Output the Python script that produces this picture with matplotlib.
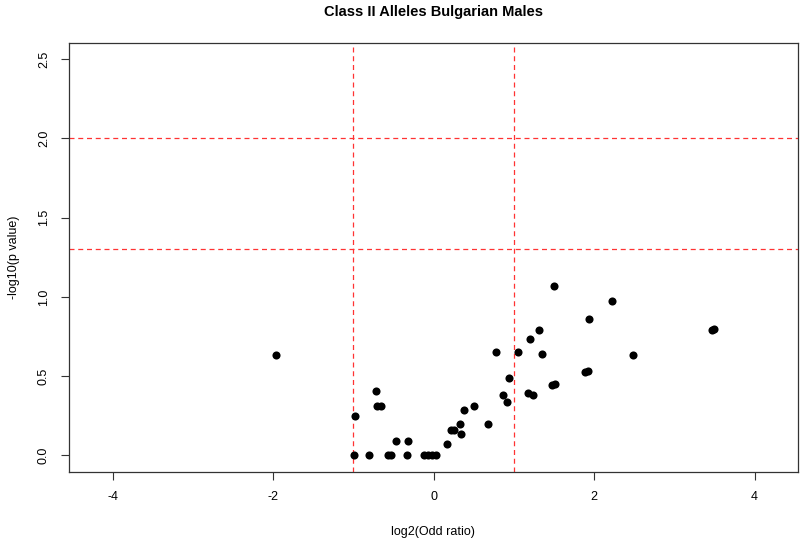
import matplotlib
matplotlib.use("Agg")
import matplotlib.pyplot as plt

log2_or = [-1.96, -0.98, -0.99, -0.81, -0.57, -0.53, -0.33, -0.125, -0.075, -0.02, 0.034,
           -0.714, -0.70, -0.655, -0.47, -0.315,
           0.17, 0.22, 0.25, 0.324, 0.34, 0.374, 0.498, 0.678, 0.865, 0.91, 0.943,
           1.18, 1.24, 1.50, 2.22, 1.94, 1.313, 1.20, 0.778, 1.047, 1.355, 2.48,
           1.89, 1.92, 1.48, 1.51, 3.47, 3.49]
neg_log10_p = [0.634, 0.25, 0.0, 0.0, 0.0, 0.0, 0.0, 0.0, 0.0, 0.0, 0.0,
               0.408, 0.313, 0.313, 0.09, 0.088,
               0.069, 0.162, 0.162, 0.20, 0.135, 0.286, 0.313, 0.195, 0.382, 0.338, 0.491,
               0.393, 0.378, 1.071, 0.973, 0.859, 0.792, 0.733, 0.653, 0.653, 0.639, 0.633,
               0.526, 0.532, 0.444, 0.452, 0.788, 0.797]

hlines = [2.0, 1.30103]
vlines = [-1, 1]
xticks = [-4, -2, 0, 2, 4]
yticks = [0.0, 0.5, 1.0, 1.5, 2.0, 2.5]

plt.rcParams['font.family'] = ['Liberation Sans', 'DejaVu Sans']

W, H = 800, 542
fig = plt.figure(figsize=(W / 100, H / 100), dpi=100)
left, right, top, bottom = 69.3, 798, 43.3, 471.8
ax = fig.add_axes([left / W, (H - bottom) / H, (right - left) / W, (bottom - top) / H])

ax.scatter(log2_or, neg_log10_p, s=34, color='black', zorder=3, linewidths=0)
for h in hlines:
    ax.axhline(h, color='#ff3333', linestyle=(0, (4, 3)), linewidth=0.9)
for v in vlines:
    ax.axvline(v, color='#ff3333', linestyle=(0, (4, 3)), linewidth=0.9)

ax.set_xlim(-4.54, 4.54)
ax.set_ylim(-0.104, 2.6)
ax.set_xticks(xticks)
ax.set_xticklabels([f"{t:d}" for t in xticks])
ax.set_yticks(yticks)
ax.set_yticklabels([f"{t:.1f}" for t in yticks], rotation=90, va='center')
ax.tick_params(direction='out', length=6, width=0.8, color='#333333', labelsize=9, pad=8)
for sp in ax.spines.values():
    sp.set_color('#333333')
    sp.set_linewidth(0.9)

fig.text(434 / W, 1 - 12 / H, "Class II Alleles Bulgarian Males", ha='center', va='center',
         fontsize=10.5, fontweight='bold')
fig.text(433 / W, 1 - 531.7 / H, "log2(Odd ratio)", ha='center', va='center', fontsize=9)
fig.text(14 / W, 1 - 257 / H, "-log10(p value)", ha='center', va='center', fontsize=9, rotation=90)

fig.savefig("out.png", dpi=100)
